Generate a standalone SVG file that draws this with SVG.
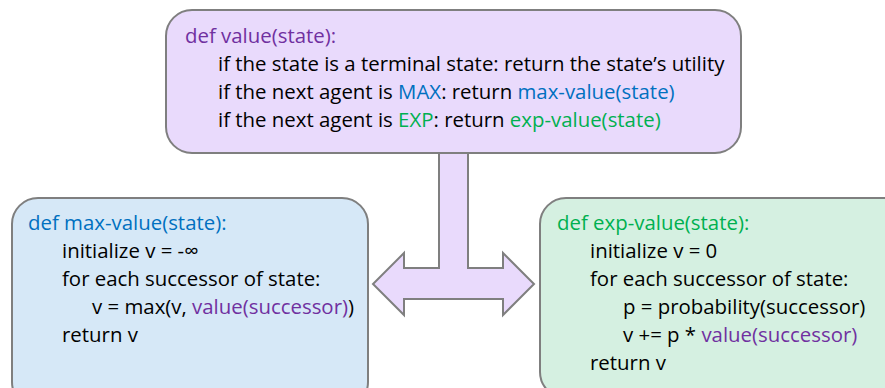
<svg xmlns="http://www.w3.org/2000/svg" width="885" height="388" viewBox="0 0 885 388">
<style>
  .box { stroke: #7f7f7f; stroke-width: 2; }
  text { font-family: "Open Sans", "Liberation Sans", sans-serif; font-size: 20.4px; fill: #000; }
  .pu { fill: #7030a0; }
  .bl { fill: #0070c0; }
  .gr { fill: #00b050; }
</style>
<rect width="885" height="388" fill="#fff"/>
<g id="connectors">
  <path d="M439,152 L468,152 L468,268 L503,268 L503,253 L534,284 L503,315 L503,299 L404,299 L404,315 L373,284 L404,253 L404,268 L439,268 Z" fill="#e9dafc" stroke="#7f7f7f" stroke-width="2" stroke-linejoin="miter"/>
</g>
<g id="value">
  <rect class="box" x="166" y="10" width="575" height="143" rx="26" fill="#e9dafc"/>
  <text x="185" y="43" class="pu">def value(state):</text>
  <text x="218" y="71">if the state is a terminal state: return the state’s utility</text>
  <text x="218" y="99">if the next agent is <tspan class="bl">MAX</tspan>: return <tspan class="bl">max-value(state)</tspan></text>
  <text x="218" y="127">if the next agent is <tspan class="gr">EXP</tspan>: return <tspan class="gr">exp-value(state)</tspan></text>
</g>
<g id="max-value">
  <rect class="box" x="12" y="198" width="356" height="210" rx="26" fill="#d6e8f7"/>
  <text x="28" y="230" class="bl">def max-value(state):</text>
  <text x="62" y="258">initialize v = -∞</text>
  <text x="62" y="286">for each successor of state:</text>
  <text x="92" y="314">v = max(v, <tspan class="pu">value(successor)</tspan>)</text>
  <text x="62" y="342">return v</text>
</g>
<g id="exp-value">
  <rect class="box" x="540" y="198" width="370" height="200" rx="26" fill="#d5f0e1"/>
  <text x="557" y="230" class="gr">def exp-value(state):</text>
  <text x="590" y="258">initialize v = 0</text>
  <text x="590" y="286">for each successor of state:</text>
  <text x="623" y="314">p = probability(successor)</text>
  <text x="623" y="342">v += p * <tspan class="pu">value(successor)</tspan></text>
  <text x="590" y="370">return v</text>
</g>
</svg>
